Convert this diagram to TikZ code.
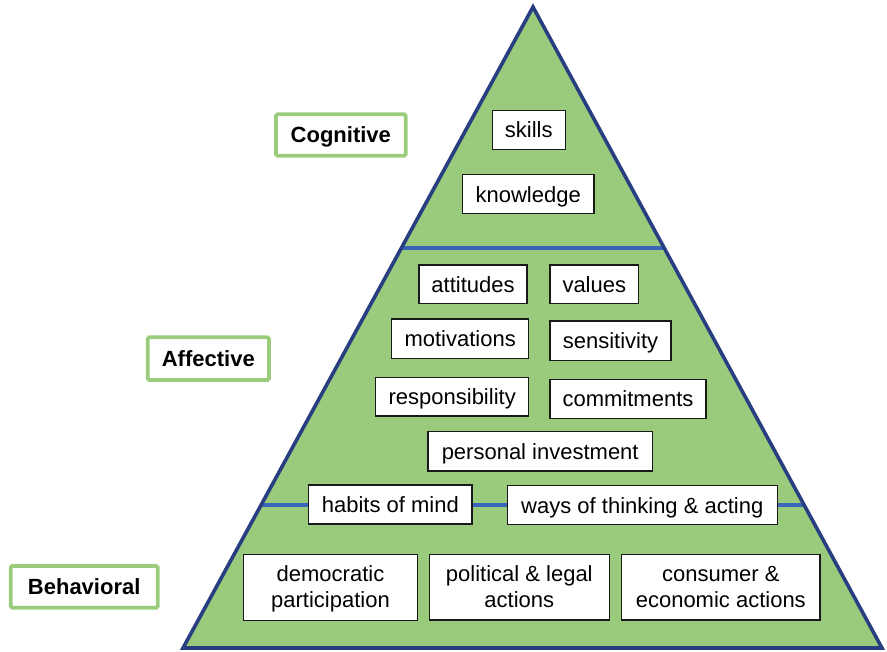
\documentclass[tikz,border=0pt]{standalone}
\usepackage{fontspec}
\setmainfont{Liberation Sans}
\usetikzlibrary{calc}
\definecolor{pgreen}{RGB}{154,202,124}
\definecolor{lgreen}{RGB}{155,204,126}
\definecolor{navy}{RGB}{40,62,128}
\definecolor{lblue}{RGB}{58,100,186}
\begin{document}
\begin{tikzpicture}[x=1pt,y=-1pt,
  every node/.style={font=\fontsize{22}{26}\selectfont, inner sep=0pt, align=center},
  wbox/.style={draw=black!90, fill=white, line width=1.4pt, text height=18.5pt, text depth=2.5pt},
  wbox2/.style={draw=black!90, fill=white, line width=1.4pt, text height=45pt, text depth=4.6pt},
  lbox/.style={draw=lgreen, fill=white, line width=3.8pt, rounded corners=1.5pt, text height=18.2pt, text depth=2.8pt, font=\fontsize{22}{26}\selectfont\bfseries},
  edge/.style={draw=navy, line width=3.6pt, line join=miter},
  divider/.style={draw=lblue, line width=3.6pt}]
\useasboundingbox (0,0) rectangle (887,652);
\coordinate (apex) at (533,7);
\coordinate (bl) at (183,648);
\coordinate (br) at (882,648);
\coordinate (c1l) at ($(apex)!0.376!(bl)$);
\coordinate (c1r) at ($(apex)!0.376!(br)$);
\coordinate (c2l) at ($(apex)!0.777!(bl)$);
\coordinate (c2r) at ($(apex)!0.777!(br)$);
\fill[pgreen] (apex) -- (bl) -- (br) -- cycle;
\draw[divider] (c1l) -- (c1r);
\draw[divider] (c2l) -- (c2r);
\draw[edge] (apex) -- (bl) -- (br) -- cycle;
% labels
\node[lbox, minimum width=129.7, minimum height=41.4] (cog) at (340.8,135) {Cognitive};
\node[lbox, minimum width=121.3, minimum height=42.7] (aff) at (208.3,358.7) {Affective};
\node[lbox, minimum width=147, minimum height=41.7] (beh) at (84.2,586.8) {Behavioral};
% cognitive
\node[wbox, minimum width=73, minimum height=38.6] (skills) at (528.8,130) {skills};
\node[wbox, minimum width=131.7, minimum height=39] (know) at (528.2,194.2) {knowledge};
% affective
\node[wbox, minimum width=108, minimum height=38.3] (att) at (473,284.2) {attitudes};
\node[wbox, minimum width=88.7, minimum height=38.3] (val) at (594.3,284.2) {values};
\node[wbox, minimum width=137, minimum height=39.3] (mot) at (460.2,338.7) {motivations};
\node[wbox, minimum width=121, minimum height=39.7] (sen) at (610.5,340.8) {sensitivity};
\node[wbox, minimum width=153, minimum height=38.3] (resp) at (452.2,396.8) {responsibility};
\node[wbox, minimum width=156, minimum height=39] (com) at (628,398.8) {commitments};
\node[wbox, minimum width=224.3, minimum height=39.3] (pers) at (540.2,451.3) {personal investment};
\node[wbox, minimum width=163.3, minimum height=39] (hab) at (390.3,504.5) {habits of mind};
\node[wbox, minimum width=270, minimum height=38.6] (ways) at (642.3,505) {ways of thinking \& acting};
% behavioral
\node[wbox2, minimum width=174.4, minimum height=66.4] (dem) at (330.5,587.5) {democratic\\participation};
\node[wbox2, minimum width=180, minimum height=65.7] (pol) at (519.3,587.2) {political \& legal\\actions};
\node[wbox2, minimum width=198.3, minimum height=65.7] (cons) at (720.8,587.2) {consumer \&\\economic actions};
\end{tikzpicture}
\end{document}
